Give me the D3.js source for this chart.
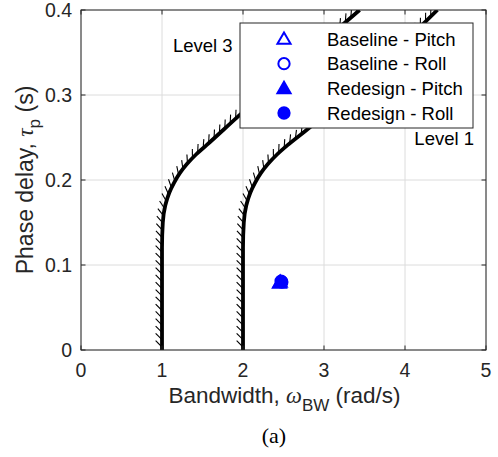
<!DOCTYPE html>
<html>
<head>
<meta charset="utf-8">
<script src="https://cdn.jsdelivr.net/npm/d3@7"></script>
<style>
  body { margin: 0; background: #fff; }
  text { font-family: "Liberation Sans", Arial, Helvetica, sans-serif; fill: #262626; }
</style>
</head>
<body>
<div id="chart"></div>
<script>
// level boundaries (bandwidth rad/s vs phase delay s)
var bound12W = [2.0, 2.0, 2.01, 2.04, 2.09, 2.15, 2.22, 2.31, 2.42, 2.55, 2.8, 4.4];
var bound12T = [0, 0.12, 0.15, 0.17, 0.185, 0.197, 0.208, 0.219, 0.23, 0.241, 0.26, 0.4];
var bound23W = [1.0, 1.0, 1.01, 1.04, 1.09, 1.15, 1.22, 1.31, 1.42, 1.55, 1.93, 3.44];
var bound23T = [0, 0.12, 0.15, 0.17, 0.185, 0.197, 0.208, 0.219, 0.23, 0.241, 0.274, 0.4];

var seriesNames = ["Baseline - Pitch", "Baseline - Roll", "Redesign - Pitch", "Redesign - Roll"];
var seriesW = [2.45, 2.47, 2.46, 2.48];
var seriesT = [0.079, 0.081, 0.08, 0.08];
var seriesShape = ["triangle", "circle", "triangle", "circle"];
var seriesFilled = [false, false, true, true];

var xTicks = [0, 1, 2, 3, 4, 5];
var yTicks = [0, 0.1, 0.2, 0.3, 0.4];

var W = 498, H = 457;
var m = {left: 81, right: 12, top: 10, bottom: 107};

var svg = d3.select("#chart")
    .append("svg")
    .attr("width", W)
    .attr("height", H);

var x = d3.scaleLinear().domain([0, 5]).range([m.left, W - m.right]);
var y = d3.scaleLinear().domain([0, 0.4]).range([H - m.bottom, m.top]);

// grid
svg.selectAll("line.gx")
    .data(xTicks)
    .enter()
    .append("line")
    .attr("class", "gx")
    .attr("x1", function(d){return x(d)})
    .attr("x2", function(d){return x(d)})
    .attr("y1", y(0))
    .attr("y2", y(0.4))
    .attr("stroke", "#dcdcdc")
    .attr("stroke-width", 1)

svg.selectAll("line.gy")
    .data(yTicks)
    .enter()
    .append("line")
    .attr("class", "gy")
    .attr("x1", x(0))
    .attr("x2", x(5))
    .attr("y1", function(d){return y(d)})
    .attr("y2", function(d){return y(d)})
    .attr("stroke", "#dcdcdc")
    .attr("stroke-width", 1)

svg.append("clipPath")
    .attr("id", "clip")
    .append("rect")
    .attr("x", x(0))
    .attr("y", y(0.4))
    .attr("width", x(5) - x(0))
    .attr("height", y(0) - y(0.4));

var plot = svg.append("g").attr("clip-path", "url(#clip)");

var line = d3.line()
    .x(function(d){return x(d[0])})
    .y(function(d){return y(d[1])})
    .curve(d3.curveMonotoneY);

function boundary(ws, ts) {
    var pts = ws.map(function(w, i){return [w, ts[i]]});
    var path = plot.append("path")
        .attr("d", line(pts))
        .attr("fill", "none")
        .attr("stroke", "#000")
        .attr("stroke-width", 3.8);

    // hatches on the worse-level side
    var node = path.node();
    var len = node.getTotalLength();
    var hatches = [];
    for (var s = 3; s < len; s += 7.3) {
        var a = node.getPointAtLength(Math.max(0, s - 0.5));
        var b = node.getPointAtLength(Math.min(len, s + 0.5));
        var p = node.getPointAtLength(s);
        var tx = b.x - a.x, ty = b.y - a.y;
        var tl = Math.sqrt(tx * tx + ty * ty);
        tx /= tl; ty /= tl;
        var hx = ty + tx, hy = -tx + ty;
        var hl = Math.sqrt(hx * hx + hy * hy);
        hatches.push({x: p.x, y: p.y, dx: hx / hl, dy: hy / hl});
    }
    plot.selectAll(null)
        .data(hatches)
        .enter()
        .append("line")
        .attr("x1", function(d){return d.x})
        .attr("y1", function(d){return d.y})
        .attr("x2", function(d){return d.x + d.dx * 9})
        .attr("y2", function(d){return d.y + d.dy * 9})
        .attr("stroke", "#000")
        .attr("stroke-width", 1.1);
}

boundary(bound23W, bound23T);
boundary(bound12W, bound12T);

var tri = d3.symbol().type(d3.symbolTriangle);
var circ = d3.symbol().type(d3.symbolCircle);

function marker(g, i, cx, cy) {
    var sym = seriesShape[i] == "triangle" ? tri.size(75)() : circ.size(100)();
    g.append("path")
        .attr("d", sym)
        .attr("transform", "translate(" + cx + "," + (cy + (seriesShape[i] == "triangle" ? 1 : 0)) + ")")
        .attr("fill", seriesFilled[i] ? "#0000ff" : "none")
        .attr("stroke", "#0000ff")
        .attr("stroke-width", 2);
}

seriesNames.forEach(function(n, i) {
    marker(plot, i, x(seriesW[i]), y(seriesT[i]));
});

// axes box
svg.append("rect")
    .attr("x", x(0))
    .attr("y", y(0.4))
    .attr("width", x(5) - x(0))
    .attr("height", y(0) - y(0.4))
    .attr("fill", "none")
    .attr("stroke", "#262626")
    .attr("stroke-width", 1);

// inner ticks on all four sides
var tl = 4.5;
xTicks.forEach(function(d) {
    svg.append("line").attr("x1", x(d)).attr("x2", x(d)).attr("y1", y(0)).attr("y2", y(0) - tl).attr("stroke", "#262626");
    svg.append("line").attr("x1", x(d)).attr("x2", x(d)).attr("y1", y(0.4)).attr("y2", y(0.4) + tl).attr("stroke", "#262626");
});
yTicks.forEach(function(d) {
    svg.append("line").attr("x1", x(0)).attr("x2", x(0) + tl).attr("y1", y(d)).attr("y2", y(d)).attr("stroke", "#262626");
    svg.append("line").attr("x1", x(5)).attr("x2", x(5) - tl).attr("y1", y(d)).attr("y2", y(d)).attr("stroke", "#262626");
});

svg.selectAll("text.xt")
    .data(xTicks)
    .enter()
    .append("text")
    .attr("class", "xt")
    .attr("x", function(d){return x(d)})
    .attr("y", y(0) + 27)
    .attr("text-anchor", "middle")
    .attr("font-size", 19.5)
    .text(function(d){return d});

svg.selectAll("text.yt")
    .data(yTicks)
    .enter()
    .append("text")
    .attr("class", "yt")
    .attr("x", x(0) - 9)
    .attr("y", function(d){return y(d) + 7})
    .attr("text-anchor", "end")
    .attr("font-size", 19.5)
    .text(function(d){return d == 0 ? "0" : d3.format(".1f")(d)});

// axis labels
var xl = svg.append("text")
    .attr("x", (x(0) + x(5)) / 2 + 1)
    .attr("y", 403)
    .attr("text-anchor", "middle")
    .attr("font-size", 22.5);
xl.append("tspan").text("Bandwidth, ");
xl.append("tspan").attr("font-style", "italic").attr("font-family", "Liberation Serif, serif").text("ω");
xl.append("tspan").attr("font-size", 17).attr("dy", 8).text("BW");
xl.append("tspan").attr("dy", -8).text(" (rad/s)");

var yl = svg.append("text")
    .attr("transform", "translate(33," + ((y(0) + y(0.4)) / 2) + ") rotate(-90)")
    .attr("text-anchor", "middle")
    .attr("font-size", 23);
yl.append("tspan").text("Phase delay, ");
yl.append("tspan").attr("font-style", "italic").attr("font-family", "Liberation Serif, serif").text("τ");
yl.append("tspan").attr("font-size", 17).attr("dy", 7).text("p");
yl.append("tspan").attr("dy", -7).text(" (s)");

svg.append("text")
    .attr("x", 274)
    .attr("y", 443)
    .attr("text-anchor", "middle")
    .attr("font-size", 22)
    .style("font-family", "Liberation Serif, Times New Roman, serif")
    .style("fill", "#000")
    .text("(a)");

// level labels
svg.append("text").attr("x", 173).attr("y", 52).attr("font-size", 18.5).style("fill", "#000").text("Level 3");
svg.append("text").attr("x", 474).attr("y", 145).attr("text-anchor", "end").attr("font-size", 18.5).style("fill", "#000").text("Level 1");

// legend
var lg = svg.append("g");
lg.append("rect")
    .attr("x", 240)
    .attr("y", 23)
    .attr("width", 233)
    .attr("height", 105)
    .attr("fill", "#fff")
    .attr("stroke", "#262626")
    .attr("stroke-width", 1);

var rowY = d3.scalePoint().domain(seriesNames).range([39, 113]);
seriesNames.forEach(function(n, i) {
    marker(lg, i, 284, rowY(n));
    lg.append("text")
        .attr("x", 327)
        .attr("y", rowY(n) + 6.5)
        .attr("font-size", 18.5)
        .style("fill", "#000")
        .text(n);
});
</script>
</body>
</html>
